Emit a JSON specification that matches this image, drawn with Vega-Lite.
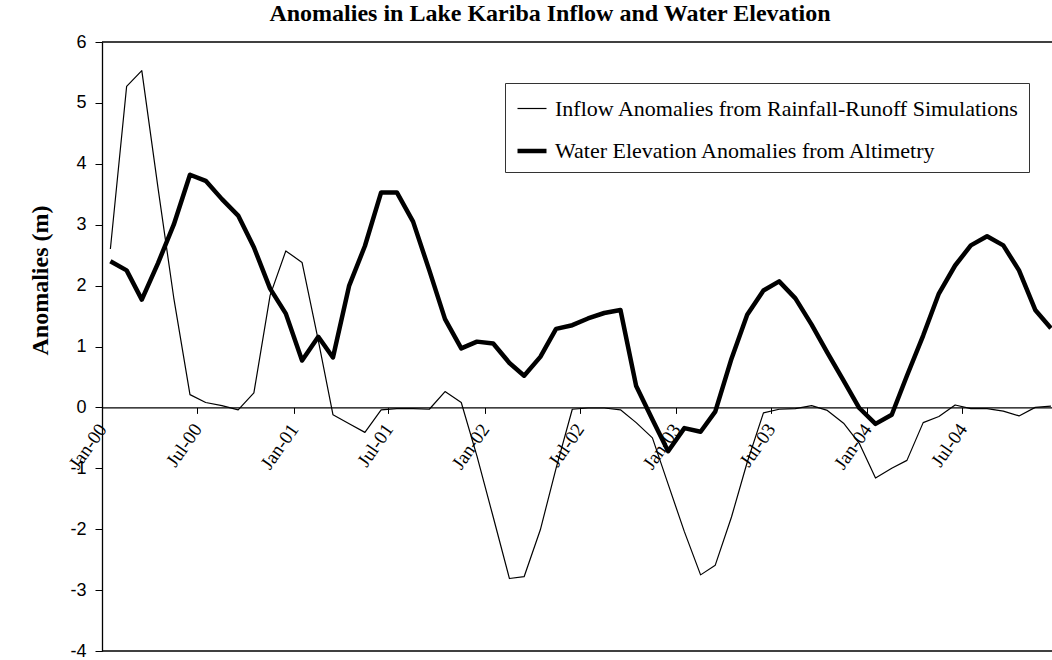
{
  "$schema": "https://vega.github.io/schema/vega-lite/v6.json",
  "width": 950,
  "height": 609,
  "autosize": {"type": "none"},
  "padding": {"left": 102, "top": 42, "right": 0, "bottom": 9},
  "background": "white",
  "title": {
    "text": "Anomalies in Lake Kariba Inflow and Water Elevation",
    "font": "Liberation Serif",
    "fontSize": 24,
    "fontWeight": "bold",
    "color": "black",
    "anchor": "middle",
    "dx": -27,
    "offset": 7
  },
  "config": {
    "view": {"stroke": null},
    "axisY": {
      "titleFont": "Liberation Serif", "titleFontSize": 24, "titleFontWeight": "bold", "titleColor": "black",
      "titleX": -62, "titleY": 238, "titleAngle": -90, "titleAlign": "center", "titleBaseline": "middle",
      "labelFont": "Liberation Sans", "labelFontSize": 18, "labelColor": "black", "labelPadding": 9,
      "labelFlush": false, "labelOverlap": false,
      "tickSize": 7, "tickColor": "black", "domainColor": "black", "domainWidth": 1.3, "grid": false
    }
  },
  "datasets": {
    "inflow": [
      {"date": "2000-01-17", "value": 2.6}, {"date": "2000-02-17", "value": 5.27}, {"date": "2000-03-17", "value": 5.53},
      {"date": "2000-04-17", "value": 3.6}, {"date": "2000-05-17", "value": 1.8}, {"date": "2000-06-17", "value": 0.21},
      {"date": "2000-07-17", "value": 0.08}, {"date": "2000-08-17", "value": 0.03}, {"date": "2000-09-17", "value": -0.04},
      {"date": "2000-10-17", "value": 0.24}, {"date": "2000-11-17", "value": 1.84}, {"date": "2000-12-17", "value": 2.57},
      {"date": "2001-01-17", "value": 2.38}, {"date": "2001-02-17", "value": 1.1}, {"date": "2001-03-17", "value": -0.12},
      {"date": "2001-04-17", "value": -0.27}, {"date": "2001-05-17", "value": -0.41}, {"date": "2001-06-17", "value": -0.04},
      {"date": "2001-07-17", "value": -0.02}, {"date": "2001-08-17", "value": -0.02}, {"date": "2001-09-17", "value": -0.03},
      {"date": "2001-10-17", "value": 0.26}, {"date": "2001-11-17", "value": 0.08}, {"date": "2001-12-17", "value": -0.8},
      {"date": "2002-01-17", "value": -1.8}, {"date": "2002-02-17", "value": -2.81}, {"date": "2002-03-17", "value": -2.78},
      {"date": "2002-04-17", "value": -2.01}, {"date": "2002-05-17", "value": -1.0}, {"date": "2002-06-17", "value": -0.03},
      {"date": "2002-07-17", "value": -0.01}, {"date": "2002-08-17", "value": -0.01}, {"date": "2002-09-17", "value": -0.04},
      {"date": "2002-10-17", "value": -0.25}, {"date": "2002-11-17", "value": -0.5}, {"date": "2002-12-17", "value": -1.26},
      {"date": "2003-01-17", "value": -2.04}, {"date": "2003-02-17", "value": -2.75}, {"date": "2003-03-17", "value": -2.59},
      {"date": "2003-04-17", "value": -1.8}, {"date": "2003-05-17", "value": -0.9}, {"date": "2003-06-17", "value": -0.09},
      {"date": "2003-07-17", "value": -0.03}, {"date": "2003-08-17", "value": -0.02}, {"date": "2003-09-17", "value": 0.03},
      {"date": "2003-10-17", "value": -0.05}, {"date": "2003-11-17", "value": -0.26}, {"date": "2003-12-17", "value": -0.59},
      {"date": "2004-01-17", "value": -1.16}, {"date": "2004-02-17", "value": -1.0}, {"date": "2004-03-17", "value": -0.87},
      {"date": "2004-04-17", "value": -0.25}, {"date": "2004-05-17", "value": -0.15}, {"date": "2004-06-17", "value": 0.04},
      {"date": "2004-07-17", "value": -0.02}, {"date": "2004-08-17", "value": -0.02}, {"date": "2004-09-17", "value": -0.06},
      {"date": "2004-10-17", "value": -0.14}, {"date": "2004-11-17", "value": 0.0}, {"date": "2004-12-17", "value": 0.02}
    ],
    "water": [
      {"date": "2000-01-17", "value": 2.4}, {"date": "2000-02-17", "value": 2.25}, {"date": "2000-03-17", "value": 1.77},
      {"date": "2000-04-17", "value": 2.37}, {"date": "2000-05-17", "value": 3.0}, {"date": "2000-06-17", "value": 3.82},
      {"date": "2000-07-17", "value": 3.72}, {"date": "2000-08-17", "value": 3.42}, {"date": "2000-09-17", "value": 3.15},
      {"date": "2000-10-17", "value": 2.63}, {"date": "2000-11-17", "value": 1.95}, {"date": "2000-12-17", "value": 1.54},
      {"date": "2001-01-17", "value": 0.77}, {"date": "2001-02-17", "value": 1.16}, {"date": "2001-03-17", "value": 0.82},
      {"date": "2001-04-17", "value": 2.0}, {"date": "2001-05-17", "value": 2.65}, {"date": "2001-06-17", "value": 3.53},
      {"date": "2001-07-17", "value": 3.53}, {"date": "2001-08-17", "value": 3.05}, {"date": "2001-09-17", "value": 2.25},
      {"date": "2001-10-17", "value": 1.45}, {"date": "2001-11-17", "value": 0.97}, {"date": "2001-12-17", "value": 1.08},
      {"date": "2002-01-17", "value": 1.05}, {"date": "2002-02-17", "value": 0.73}, {"date": "2002-03-17", "value": 0.52},
      {"date": "2002-04-17", "value": 0.83}, {"date": "2002-05-17", "value": 1.29}, {"date": "2002-06-17", "value": 1.35},
      {"date": "2002-07-17", "value": 1.46}, {"date": "2002-08-17", "value": 1.55}, {"date": "2002-09-17", "value": 1.6},
      {"date": "2002-10-17", "value": 0.35}, {"date": "2002-11-17", "value": -0.2}, {"date": "2002-12-17", "value": -0.72},
      {"date": "2003-01-17", "value": -0.34}, {"date": "2003-02-17", "value": -0.4}, {"date": "2003-03-17", "value": -0.07},
      {"date": "2003-04-17", "value": 0.8}, {"date": "2003-05-17", "value": 1.52}, {"date": "2003-06-17", "value": 1.92},
      {"date": "2003-07-17", "value": 2.07}, {"date": "2003-08-17", "value": 1.79}, {"date": "2003-09-17", "value": 1.36},
      {"date": "2003-10-17", "value": 0.9}, {"date": "2003-11-17", "value": 0.44}, {"date": "2003-12-17", "value": -0.01},
      {"date": "2004-01-17", "value": -0.27}, {"date": "2004-02-17", "value": -0.12}, {"date": "2004-03-17", "value": 0.52},
      {"date": "2004-04-17", "value": 1.18}, {"date": "2004-05-17", "value": 1.87}, {"date": "2004-06-17", "value": 2.33},
      {"date": "2004-07-17", "value": 2.66}, {"date": "2004-08-17", "value": 2.81}, {"date": "2004-09-17", "value": 2.66},
      {"date": "2004-10-17", "value": 2.25}, {"date": "2004-11-17", "value": 1.6}, {"date": "2004-12-17", "value": 1.3}
    ]
  },
  "layer": [
    {
      "data": {"name": "inflow"},
      "transform": [{"calculate": "'Inflow Anomalies from Rainfall-Runoff Simulations'", "as": "series"}],
      "mark": {"type": "line", "clip": true, "color": "black", "strokeJoin": "round"},
      "encoding": {
        "x": {
          "field": "date", "type": "temporal",
          "scale": {"type": "utc", "domain": [{"year": 2000, "month": 1, "date": 1, "utc": true}, {"year": 2004, "month": 12, "date": 19, "utc": true}]},
          "axis": {
            "title": null, "tickCount": {"interval": "month", "step": 6}, "format": "%b-%y",
            "offset": -243.6, "zindex": 1,
            "labelAngle": -55, "labelAlign": "right", "labelBaseline": "middle",
            "labelFont": "Liberation Serif", "labelFontSize": 19, "labelColor": "black", "labelPadding": 12,
            "labelOverlap": false, "labelFlush": false, "labelBound": false,
            "tickSize": 6, "tickColor": "black", "domainColor": "black", "domainWidth": 1.3, "grid": false
          }
        },
        "y": {
          "field": "value", "type": "quantitative",
          "scale": {"domain": [-4, 6], "nice": false, "zero": false},
          "axis": {"title": "Anomalies (m)", "values": [-4, -3, -2, -1, 0, 1, 2, 3, 4, 5, 6], "labelExpr": "datum.value + ''"}
        },
        "strokeWidth": {
          "field": "series", "type": "nominal",
          "scale": {"domain": ["Inflow Anomalies from Rainfall-Runoff Simulations", "Water Elevation Anomalies from Altimetry"], "range": [1.2, 4.5]},
          "legend": {
            "title": null, "orient": "none", "legendX": 403, "legendY": 41, "direction": "vertical",
            "strokeColor": "#333333", "fillColor": "white", "padding": 10,
            "labelFont": "Liberation Serif", "labelFontSize": 22, "labelColor": "black", "labelOffset": 6, "labelLimit": 600,
            "symbolType": "stroke", "symbolSize": 841, "symbolStrokeColor": "black", "rowPadding": 14
          }
        }
      }
    },
    {
      "data": {"name": "water"},
      "transform": [{"calculate": "'Water Elevation Anomalies from Altimetry'", "as": "series"}],
      "mark": {"type": "line", "clip": true, "color": "black", "strokeJoin": "round"},
      "encoding": {
        "x": {"field": "date", "type": "temporal"},
        "y": {"field": "value", "type": "quantitative", "axis": {"title": "Anomalies (m)", "values": [-4, -3, -2, -1, 0, 1, 2, 3, 4, 5, 6], "labelExpr": "datum.value + ''"}},
        "strokeWidth": {"field": "series", "type": "nominal"}
      }
    },
    {
      "data": {"values": [{"value": 6}, {"value": -4}]},
      "mark": {"type": "rule", "color": "black", "strokeWidth": 1.3},
      "encoding": {"y": {"field": "value", "type": "quantitative", "axis": {"title": "Anomalies (m)", "values": [-4, -3, -2, -1, 0, 1, 2, 3, 4, 5, 6], "labelExpr": "datum.value + ''"}}}
    }
  ]
}
